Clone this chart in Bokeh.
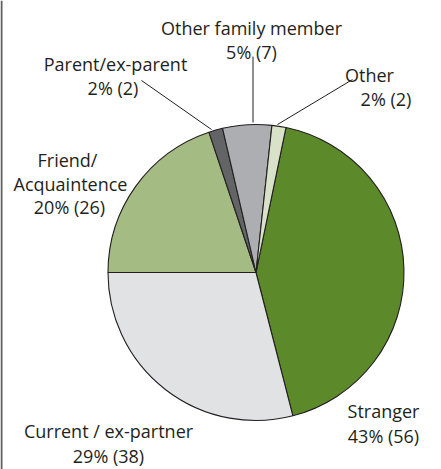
import math
from bokeh.plotting import figure
from bokeh.models import Range1d, ColumnDataSource
from bokeh.core.properties import value
from bokeh.embed import file_html
from bokeh.resources import INLINE

# ---- data ----
categories = ["Stranger", "Current / ex-partner", "Friend/ Acquaintence",
              "Parent/ex-parent", "Other family member", "Other"]
counts = [56, 38, 26, 2, 7, 2]
colors = ["#5c8a2b", "#e1e2e4", "#a4bb83", "#636466", "#adaeb2", "#d8e2c9"]

# ---- layout (pixel coords, y measured from the top) ----
W, H = 441, 469
CX, CY, R = 255.5, 272.0, 148.0
FONT = "Open Sans"
FS = "18px"
INK = "#231f20"

def Y(y):
    return H - y

total = sum(counts)
fr = [c / total * 2 * math.pi for c in counts]
# clockwise from Stranger; boundary Current|Friend sits at 9 o'clock
a0 = math.pi + fr[0] + fr[1]
starts, ends = [], []
cum = 0.0
for f in fr:
    ends.append(a0 - cum)
    starts.append(a0 - cum - f)
    cum += f

src = ColumnDataSource(dict(start=starts, end=ends, color=colors,
                            x=[CX] * len(counts), y=[Y(CY)] * len(counts)))

p = figure(width=W, height=H, output_backend="svg", toolbar_location=None,
           x_range=Range1d(0, W), y_range=Range1d(0, H), min_border=0)
p.axis.visible = False
p.grid.visible = False
p.outline_line_color = None
p.background_fill_color = "white"
p.border_fill_color = "white"

# left frame line
p.quad(left=0, right=2, bottom=0, top=H, fill_color="#5e5e5e", line_color=None)

p.wedge(x="x", y="y", radius=R, start_angle="start", end_angle="end",
        direction="anticlock", fill_color="color", line_color=INK,
        line_width=1.1, source=src)

pct = [f"{round(c / total * 100)}% ({c})" for c in counts]

# label lines: (text, center x, baseline y)
label_lines = [
    (["Stranger", pct[0]], [383, 383], [410, 435]),
    (["Current / ex-partner", pct[1]], [108, 108], [430, 455]),
    (["Friend/", "Acquaintence", pct[2]], [67, 70, 69], [159.5, 183, 206.5]),
    (["Parent/ex-parent", pct[3]], [115, 112.5], [63, 87]),
    (["Other family member", pct[4]], [251, 251], [27.5, 51.7]),
    (["Other", pct[5]], [369, 385.5], [74, 98]),
]
tx, ty, tt = [], [], []
for texts, xs, ys in label_lines:
    for t, x, y in zip(texts, xs, ys):
        tt.append(t); tx.append(x); ty.append(Y(y))
p.text(x=tx, y=ty, text=tt, text_font=value(FONT), text_font_size=FS,
       text_color=INK, text_align="center", text_baseline="alphabetic")

# leader lines
lx0 = [141, 252.5, 352]
ly0 = [80, 56, 79]
lx1 = [211, 252.5, 277]
ly1 = [129, 122, 124]
p.segment(x0=lx0, y0=[Y(v) for v in ly0], x1=lx1, y1=[Y(v) for v in ly1],
          line_color=INK, line_width=1)

open("out.html", "w").write(file_html(p, INLINE))
